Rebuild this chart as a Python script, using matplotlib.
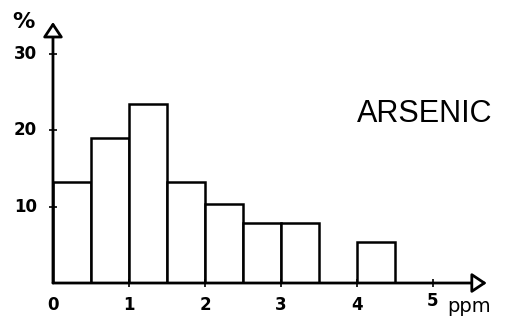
import matplotlib
matplotlib.use("Agg")
import matplotlib.pyplot as plt

# arsenic content histogram (ppm classes of 0.5)
bin_left = [0.0, 0.5, 1.0, 1.5, 2.0, 2.5, 3.0, 3.5, 4.0]
percent = [13.3, 19.0, 23.5, 13.3, 10.3, 7.8, 7.8, 0.0, 5.4]
x_ticks = [0, 1, 2, 3, 4, 5]
y_ticks = [10, 20, 30]

fig = plt.figure(figsize=(5.08, 3.24), dpi=100)
ax = fig.add_axes([0.1043, 0.1265, 0.854, 0.8056])

for left, h in zip(bin_left, percent):
    if h > 0:
        ax.bar(left, h, width=0.5, align="edge", facecolor="white",
               edgecolor="black", linewidth=1.8)

ax.set_xlim(0, 5.71)
ax.set_ylim(0, 34.2)
for s in ax.spines.values():
    s.set_visible(False)

# axes drawn as arrows with open heads
arrow = dict(arrowstyle="-|>,head_length=0.45,head_width=0.3",
             ec="black", fc="white", lw=2, mutation_scale=20,
             shrinkA=0, shrinkB=0)
ax.annotate("", xy=(5.71, 0), xytext=(0, 0), arrowprops=arrow,
            annotation_clip=False)
ax.annotate("", xy=(0, 34.2), xytext=(0, 0), arrowprops=arrow,
            annotation_clip=False)

ax.set_xticks(x_ticks[1:])
ax.set_yticks(y_ticks)
ax.tick_params(direction="inout", length=6, width=1.2, labelbottom=False,
               labelleft=False)

for v in x_ticks:
    dy = -2.3 if v == 5 else -2.9
    ax.text(v, dy, str(v), ha="center", va="center", fontsize=12,
            fontweight="bold")
for v in y_ticks:
    ax.text(-0.21, v, str(v), ha="right", va="center", fontsize=12,
            fontweight="bold")
ax.text(-0.39, 34.2, "%", ha="center", va="center", fontsize=16,
        fontweight="bold")
ax.text(5.47, -1.8, "ppm", ha="center", va="top", fontsize=14)
ax.text(5.79, 22.1, "ARSENIC", ha="right", va="center", fontsize=22,
        family="Liberation Sans")

fig.savefig("out.png", dpi=100)
